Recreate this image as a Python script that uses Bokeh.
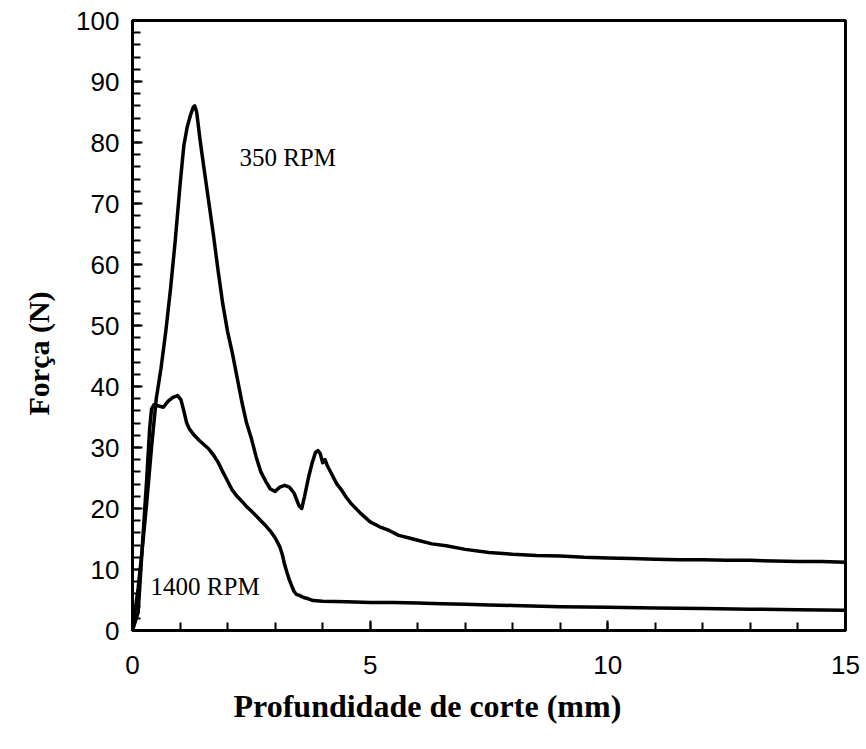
from bokeh.plotting import figure
from bokeh.models import Range1d, Title, FixedTicker
from bokeh.core.properties import value
from bokeh.embed import file_html
from bokeh.resources import INLINE

# 350 RPM curve (force in N vs cutting depth in mm)
x350 = [0, 0.05, 0.12, 0.2, 0.3, 0.4, 0.5, 0.6, 0.7, 0.8, 0.9, 1.0, 1.08, 1.15, 1.22,
        1.28, 1.31, 1.35, 1.42, 1.5, 1.6, 1.7, 1.8, 1.9, 2.0, 2.1, 2.2, 2.3, 2.4, 2.5,
        2.6, 2.7, 2.8, 2.9, 3.0, 3.1, 3.2, 3.3, 3.4, 3.5, 3.56, 3.62, 3.7, 3.78, 3.85,
        3.9, 3.95, 4.0, 4.05, 4.1, 4.2, 4.3, 4.4, 4.5, 4.6, 4.8, 5.0, 5.2, 5.4, 5.6,
        5.8, 6.0, 6.3, 6.6, 7.0, 7.5, 8.0, 8.5, 9.0, 9.5, 10, 10.5, 11, 11.5, 12,
        12.5, 13, 13.5, 14, 14.5, 15]
y350 = [0, 3, 7, 13, 21, 30, 38, 43, 49, 56, 64, 73, 79.5, 82.5, 84.5,
        85.8, 86, 85, 80.5, 76, 70.5, 65, 59, 53.5, 49, 45.5, 41.5, 37.5, 34, 31.5,
        28.5, 26, 24.5, 23.2, 22.8, 23.5, 23.8, 23.5, 22.5, 20.5, 20, 22, 25, 27.5, 29.2,
        29.5, 29, 27.5, 28, 27, 25.5, 24, 23, 21.8, 20.8, 19.2, 17.8, 17, 16.4, 15.6,
        15.2, 14.8, 14.2, 13.9, 13.3, 12.8, 12.5, 12.3, 12.2, 12.0, 11.9, 11.8, 11.7, 11.6, 11.6,
        11.5, 11.5, 11.4, 11.3, 11.3, 11.2]

# 1400 RPM curve
x1400 = [0, 0.06, 0.12, 0.2, 0.3, 0.36, 0.4, 0.45, 0.55, 0.65, 0.75, 0.85, 0.95, 1.02,
         1.08, 1.14, 1.2, 1.3, 1.4, 1.5, 1.6, 1.7, 1.8, 1.9, 2.0, 2.1, 2.2, 2.3, 2.4,
         2.5, 2.6, 2.7, 2.8, 2.9, 3.0, 3.1, 3.15, 3.2, 3.25, 3.3, 3.35, 3.4, 3.45, 3.5,
         3.6, 3.7, 3.8, 4.0, 4.5, 5.0, 5.5, 6.0, 6.5, 7.0, 7.5, 8, 9, 10, 11, 12, 13, 14, 15]
y1400 = [0, 1.5, 3, 13, 25, 33, 36.3, 37, 36.8, 36.6, 37.6, 38.2, 38.5, 37.8,
         36, 34, 33, 32, 31.2, 30.5, 29.8, 28.8, 27.6, 26, 24.5, 23, 22, 21.2, 20.3,
         19.6, 18.8, 18, 17.2, 16.3, 15.2, 13.7, 12.5, 10.8, 9.5, 8.3, 7.3, 6.4, 5.9, 5.8,
         5.4, 5.2, 4.9, 4.8, 4.7, 4.6, 4.6, 4.5, 4.4, 4.3, 4.2, 4.1, 3.9, 3.8, 3.7, 3.6, 3.5, 3.4, 3.3]

# curve annotations
label_text = ["350 RPM", "1400 RPM"]
label_x = [2.25, 0.38]
label_y = [77.6, 7.2]

x_ticks = [0, 5, 10, 15]
y_ticks = [0, 10, 20, 30, 40, 50, 60, 70, 80, 90, 100]

p = figure(width=866, height=749, output_backend="svg", toolbar_location=None,
           x_range=Range1d(0, 15), y_range=Range1d(0, 100),
           min_border_left=131, min_border_right=21, min_border_top=20,
           min_border_bottom=119)
p.grid.visible = False
p.background_fill_color = "white"
p.border_fill_color = "white"
p.outline_line_color = "black"
p.outline_line_width = 3

for ax in (p.xaxis[0], p.yaxis[0]):
    ax.axis_line_width = 3
    ax.axis_line_color = "black"
    ax.major_tick_in = 10
    ax.major_tick_out = 0
    ax.minor_tick_in = 8
    ax.minor_tick_out = 0
    ax.major_tick_line_width = 2
    ax.minor_tick_line_width = 2
    ax.major_tick_line_color = "black"
    ax.minor_tick_line_color = "black"
    ax.major_label_text_font = "Liberation Sans"
    ax.major_label_text_font_size = "26px"
    ax.major_label_text_color = "black"

p.xaxis[0].ticker = FixedTicker(ticks=x_ticks, minor_ticks=[float(i) for i in range(16)])
p.yaxis[0].ticker = FixedTicker(ticks=y_ticks, minor_ticks=[float(i) for i in range(0, 101, 2)])
p.xaxis[0].major_label_standoff = 25
p.yaxis[0].major_label_standoff = 13

p.add_layout(Title(text="Profundidade de corte (mm)", align="left", offset=101,
                   text_font="Liberation Serif", text_font_style="bold",
                   text_font_size="32px", text_color="black", standoff=18), "below")
p.add_layout(Title(text="Força (N)", align="left", offset=215,
                   text_font="Liberation Serif", text_font_style="bold",
                   text_font_size="30px", text_color="black", standoff=38), "left")

p.line(x350, y350, line_color="black", line_width=3.5, line_join="round")
p.line(x1400, y1400, line_color="black", line_width=3.5, line_join="round")

p.text(x=label_x, y=label_y, text=label_text, text_font=value("Liberation Serif"),
       text_font_size="25px", text_color="black", text_baseline="alphabetic",
       text_align="left")

open("out.html", "w").write(file_html(p, INLINE))
